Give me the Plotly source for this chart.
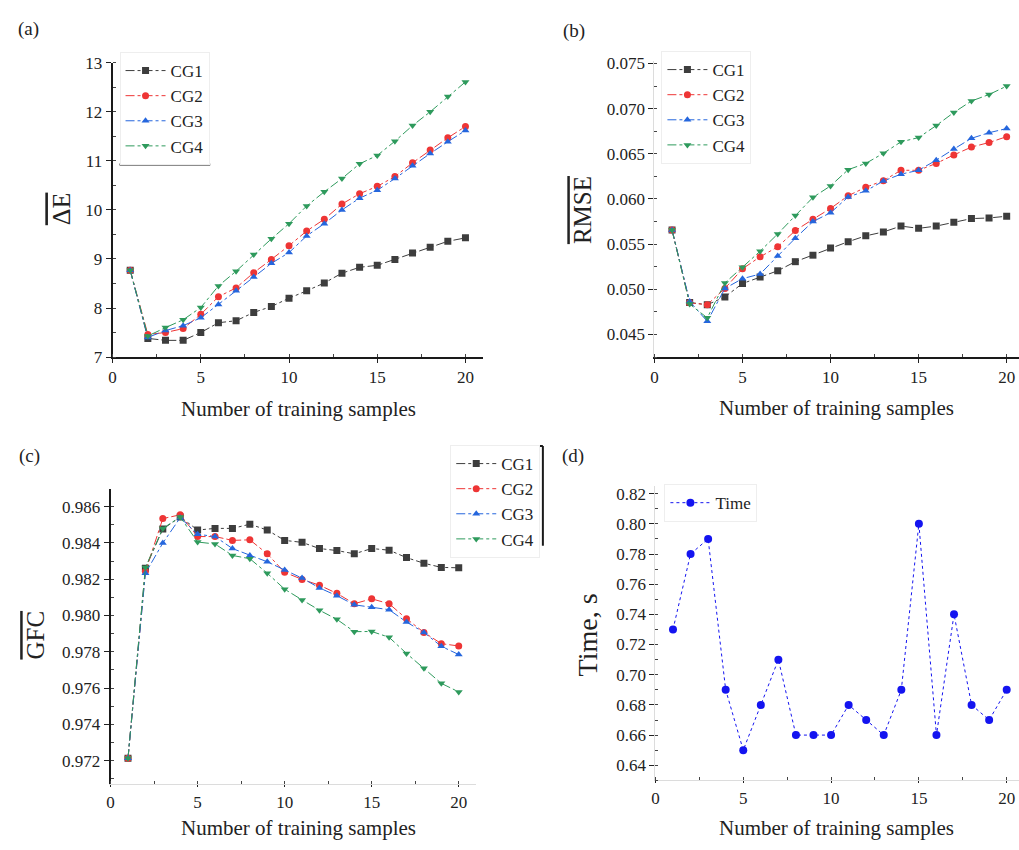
import plotly.graph_objects as go

W, H = 1019, 850

# ---------------- data ----------------
samples = list(range(1, 21))

de_cg1 = [8.77, 7.38, 7.34, 7.34, 7.50, 7.70, 7.74, 7.91, 8.03, 8.20,
          8.35, 8.51, 8.71, 8.83, 8.87, 8.99, 9.12, 9.24, 9.36, 9.43]
de_cg2 = [8.77, 7.46, 7.50, 7.58, 7.87, 8.23, 8.41, 8.72, 8.99, 9.27,
          9.57, 9.81, 10.12, 10.33, 10.48, 10.68, 10.96, 11.22, 11.47, 11.70]
de_cg3 = [8.77, 7.40, 7.54, 7.64, 7.80, 8.07, 8.35, 8.63, 8.91, 9.13,
          9.47, 9.72, 10.00, 10.24, 10.40, 10.64, 10.90, 11.15, 11.39, 11.62]
de_cg4 = [8.77, 7.43, 7.60, 7.76, 8.01, 8.45, 8.75, 9.09, 9.41, 9.72,
          10.08, 10.37, 10.64, 10.94, 11.11, 11.40, 11.72, 12.00, 12.31, 12.61]

rmse_cg1 = [0.05657, 0.04854, 0.04829, 0.04916, 0.05064, 0.05136, 0.05205, 0.05306, 0.05378, 0.05458,
            0.05527, 0.05592, 0.05635, 0.05700, 0.05675, 0.05700, 0.05743, 0.05783, 0.05790, 0.05809]
rmse_cg2 = [0.05657, 0.04850, 0.04830, 0.05010, 0.05227, 0.05360, 0.05470, 0.05650, 0.05776, 0.05895,
            0.06036, 0.06130, 0.06203, 0.06318, 0.06318, 0.06394, 0.06488, 0.06575, 0.06625, 0.06690]
rmse_cg3 = [0.05657, 0.04865, 0.04645, 0.05010, 0.05118, 0.05169, 0.05368, 0.05566, 0.05750, 0.05848,
            0.06022, 0.06090, 0.06199, 0.06275, 0.06318, 0.06430, 0.06553, 0.06672, 0.06734, 0.06780]
rmse_cg4 = [0.05657, 0.04836, 0.04684, 0.05071, 0.05245, 0.05422, 0.05613, 0.05816, 0.06018, 0.06145,
            0.06325, 0.06394, 0.06506, 0.06633, 0.06680, 0.06813, 0.06958, 0.07085, 0.07157, 0.07250]

gfc_cg1 = [0.97213, 0.98260, 0.98476, 0.98543, 0.98471, 0.98480, 0.98480, 0.98503, 0.98471, 0.98414,
           0.98403, 0.98369, 0.98358, 0.98340, 0.98369, 0.98360, 0.98319, 0.98288, 0.98265, 0.98263]
gfc_cg2 = [0.97213, 0.98242, 0.98534, 0.98555, 0.98435, 0.98435, 0.98414, 0.98417, 0.98340, 0.98238,
           0.98199, 0.98167, 0.98122, 0.98065, 0.98092, 0.98065, 0.97982, 0.97907, 0.97845, 0.97832]
gfc_cg3 = [0.97213, 0.98233, 0.98399, 0.98539, 0.98448, 0.98435, 0.98369, 0.98331, 0.98296, 0.98251,
           0.98206, 0.98152, 0.98109, 0.98059, 0.98045, 0.98032, 0.97964, 0.97907, 0.97830, 0.97785]
gfc_cg4 = [0.97213, 0.98265, 0.98480, 0.98543, 0.98405, 0.98394, 0.98331, 0.98313, 0.98233, 0.98145,
           0.98086, 0.98029, 0.97979, 0.97911, 0.97912, 0.97880, 0.97791, 0.97710, 0.97626, 0.97579]

time_s = [0.73, 0.78, 0.79, 0.69, 0.65, 0.68, 0.71, 0.66, 0.66, 0.66,
          0.68, 0.67, 0.66, 0.69, 0.80, 0.66, 0.74, 0.68, 0.67, 0.69]

group_names = ["CG1", "CG2", "CG3", "CG4"]

# ---------------- styles ----------------
FONT = "Liberation Serif"
colors = ["#3d3d3d", "#ee3535", "#2566dd", "#2e9a5c"]
symbols = ["square", "circle", "triangle-up", "triangle-down"]
TIME_COLOR = "#1414f0"


def px_x(p):
    return p / W


def px_y(p):
    return 1 - p / H


fig = go.Figure()

panels = [
    # (xaxis id, yaxis id, legend id, series list)
    ("x", "y", "legend", [de_cg1, de_cg2, de_cg3, de_cg4]),
    ("x2", "y2", "legend2", [rmse_cg1, rmse_cg2, rmse_cg3, rmse_cg4]),
    ("x3", "y3", "legend3", [gfc_cg1, gfc_cg2, gfc_cg3, gfc_cg4]),
]

for xa, ya, lg, series in panels:
    for name, vals, c, s in zip(group_names, series, colors, symbols):
        fig.add_trace(go.Scatter(
            x=samples, y=vals, name=name, xaxis=xa, yaxis=ya, legend=lg,
            mode="lines+markers",
            line=dict(color=c, width=1, dash="dashdot"),
            marker=dict(color=c, symbol=s, size=7, line=dict(width=0)),
        ))

fig.add_trace(go.Scatter(
    x=samples, y=time_s, name="Time", xaxis="x4", yaxis="y4", legend="legend4",
    mode="lines+markers",
    line=dict(color=TIME_COLOR, width=1, dash="dot"),
    marker=dict(color=TIME_COLOR, symbol="circle", size=8, line=dict(width=0)),
))

TICKFONT = dict(family=FONT, size=17, color="#222")


def xaxis(domain, anchor, rng, linecolor, linewidth, ticklen=4):
    return dict(
        domain=domain, anchor=anchor, range=rng,
        tickmode="linear", tick0=0, dtick=5,
        ticks="outside", ticklen=ticklen, tickwidth=1, tickcolor="#222",
        minor=dict(ticks="inside", ticklen=3, tickcolor="#444", dtick=2.5, tick0=0, showgrid=False),
        showline=True, linecolor=linecolor, linewidth=linewidth,
        showgrid=False, zeroline=False, tickfont=TICKFONT,
    )


def yaxis(domain, anchor, rng, dtick, fmt, linecolor, linewidth, tick0):
    return dict(
        domain=domain, anchor=anchor, range=rng,
        tickmode="linear", tick0=tick0, dtick=dtick, tickformat=fmt,
        ticks="outside", ticklen=5, tickwidth=1, tickcolor="#222",
        minor=dict(ticks="inside", ticklen=3, tickcolor="#444", dtick=dtick / 2, tick0=tick0, showgrid=False),
        showline=True, linecolor=linecolor, linewidth=linewidth,
        showgrid=False, zeroline=False, tickfont=TICKFONT,
    )


DARK = "#1a1a1a"
LIGHT = "#dcdcdc"

fig.update_layout(
    width=W, height=H,
    margin=dict(l=0, r=0, t=0, b=0),
    paper_bgcolor="white", plot_bgcolor="white",
    font=dict(family=FONT, color="#222"),
    showlegend=True,
    # (a)
    xaxis=xaxis([px_x(109), px_x(481)], "y", [0, 21], DARK, 2),
    yaxis=yaxis([px_y(356), px_y(55)], "x", [7, 13], 1, "d", DARK, 2, 7),
    # (b)
    xaxis2=xaxis([px_x(653), 1.0], "y2", [0, 20.7], DARK, 2),
    yaxis2=yaxis([px_y(356), px_y(53)], "x2", [0.0425, 0.0753], 0.005, ".3f", LIGHT, 1, 0.045),
    # (c)
    xaxis3=xaxis([px_x(107), px_x(474)], "y3", [0, 21], LIGHT, 1, ticklen=2),
    yaxis3=yaxis([px_y(793), px_y(491)], "x3", [0.9707, 0.98697], 0.002, ".3f", DARK, 2, 0.972),
    # (d)
    xaxis4=xaxis([px_x(654), 1.0], "y4", [0, 20.7], LIGHT, 1, ticklen=2),
    yaxis4=yaxis([px_y(789), px_y(488)], "x4", [0.63, 0.825], 0.02, ".2f", LIGHT, 1, 0.64),
)

LEGFONT = dict(family=FONT, size=17, color="#222")


def legend_at(x, y):
    return dict(x=px_x(x), y=px_y(y), xanchor="left", yanchor="top",
                bgcolor="white", bordercolor="#eeeeee", borderwidth=1,
                font=LEGFONT, itemwidth=40, tracegroupgap=0)


fig.update_layout(
    legend=legend_at(116, 44),
    legend2=legend_at(660, 43),
    legend3=legend_at(448, 446),
    legend4=legend_at(663, 486),
)

# dark frame edges of the legend boxes
fig.add_shape(type="line", xref="paper", yref="paper",
              x0=px_x(116), x1=px_x(207), y0=px_y(159), y1=px_y(159),
              line=dict(color=DARK, width=2))
fig.add_shape(type="line", xref="paper", yref="paper",
              x0=px_x(448), x1=px_x(541), y0=px_y(447), y1=px_y(447),
              line=dict(color=DARK, width=2))
fig.add_shape(type="line", xref="paper", yref="paper",
              x0=px_x(541), x1=px_x(541), y0=px_y(447), y1=px_y(549),
              line=dict(color=DARK, width=2))

annotations = []

# panel labels
for text, x, y in [("(a)", 25, 20), ("(b)", 572, 22), ("(c)", 26, 457), ("(d)", 571, 457)]:
    annotations.append(dict(text=text, x=px_x(x), y=px_y(y), xref="paper", yref="paper",
                            showarrow=False, font=dict(family=FONT, size=19, color="#222"),
                            xanchor="center", yanchor="middle"))

# x-axis titles
for x, y in [(296, 409), (836, 408), (296, 838), (836, 838)]:
    annotations.append(dict(text="Number of training samples", x=px_x(x), y=px_y(y),
                            xref="paper", yref="paper", showarrow=False,
                            font=dict(family=FONT, size=21, color="#222"),
                            xanchor="center", yanchor="middle"))

# y-axis titles (overlined quantities are averages)
OVL = '<span style="text-decoration:overline">{}</span>'
for text, x, y, size in [(OVL.format("ΔE"), 58, 204, 26),
                         (OVL.format("RMSE"), 581, 206, 25),
                         (OVL.format("GFC"), 32, 640, 25),
                         ("Time, s", 586, 640, 28)]:
    annotations.append(dict(text=text, x=px_x(x), y=px_y(y), xref="paper", yref="paper",
                            showarrow=False, textangle=-90,
                            font=dict(family=FONT, size=size, color="#222"),
                            xanchor="center", yanchor="middle"))

fig.update_layout(annotations=annotations)

fig.write_html("out.html")
